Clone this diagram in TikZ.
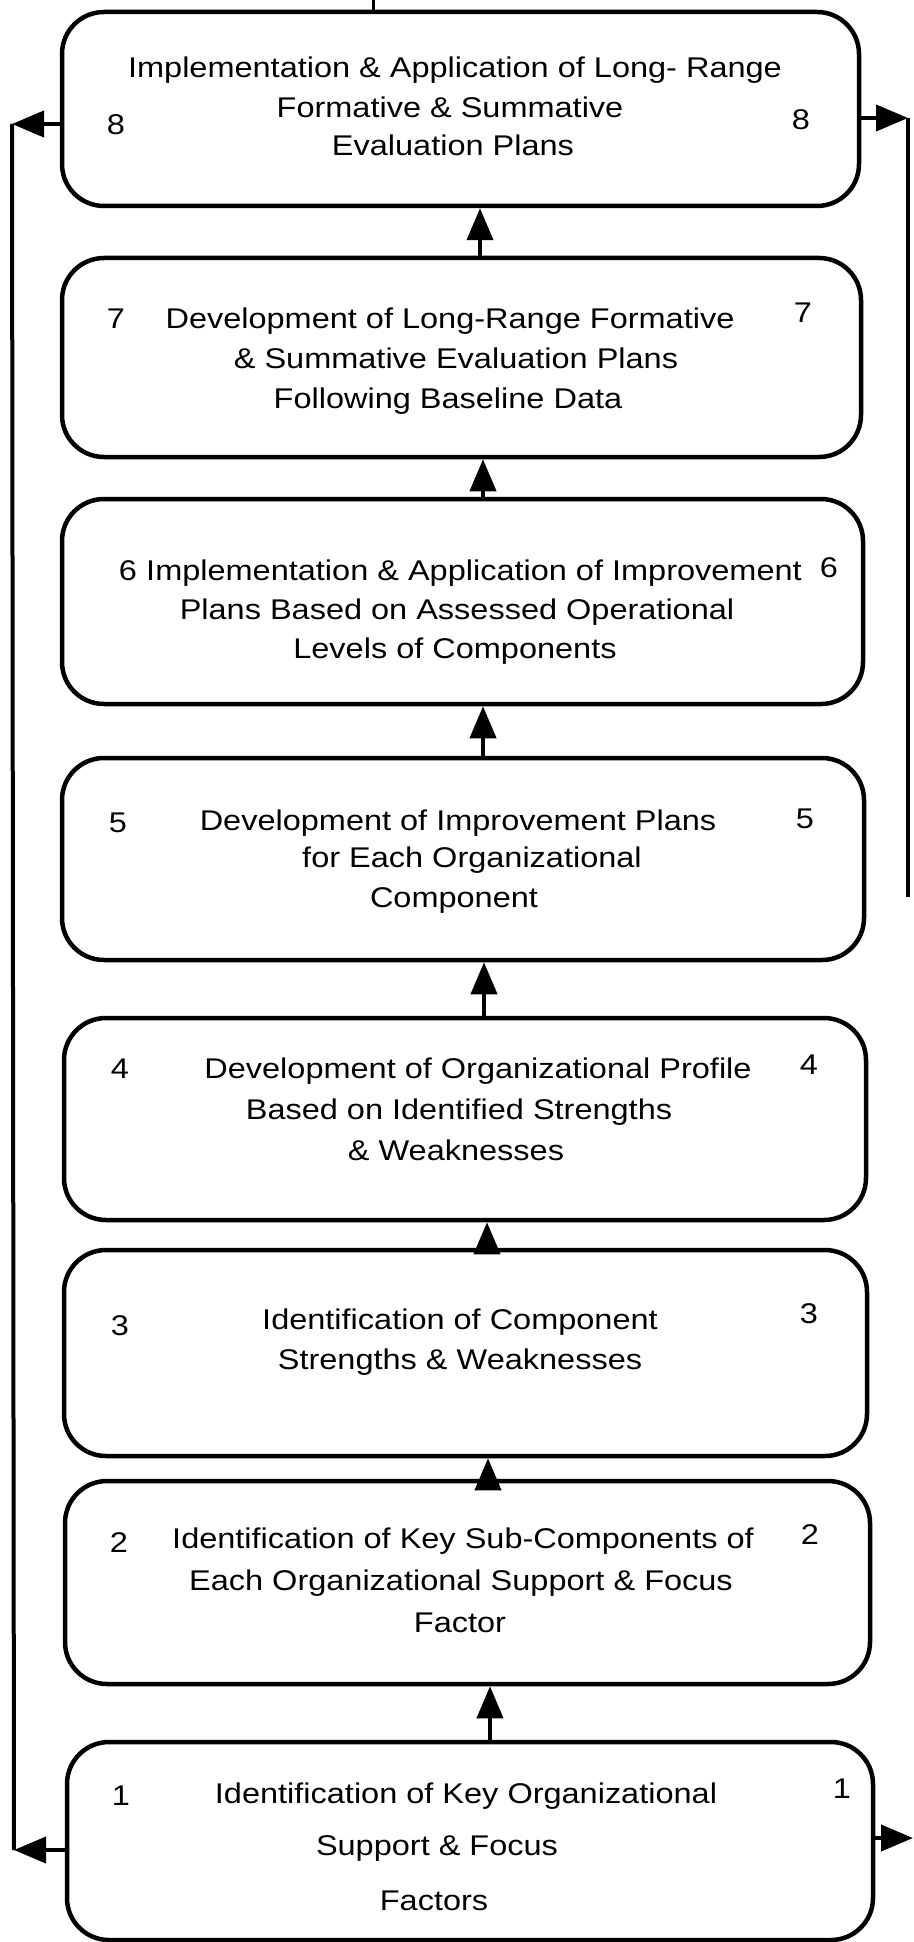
\documentclass[tikz,border=0pt]{standalone}
\usepackage{fontspec}
\setmainfont{Liberation Sans}[FakeStretch=1.14]
\usetikzlibrary{arrows.meta}
\begin{document}
\begin{tikzpicture}[x=1pt,y=-1pt,
  box/.style={draw, line width=4.5pt, rounded corners=42pt, inner sep=0pt},
  txt/.style={anchor=base, inner sep=0pt, font=\fontsize{28.5}{39}\selectfont},
  con/.style={line width=4pt},
  arr/.style={con, -{Triangle[length=32pt,width=26pt]}}]
\fill[white] (0,0) rectangle (913,1942);
\useasboundingbox (0,0) rectangle (913,1942);

% boxes
\node[box, minimum width=797pt, minimum height=194pt] (b8) at (460.5,109) {};
\node[box, minimum width=799pt, minimum height=199pt] (b7) at (461.5,357.5) {};
\node[box, minimum width=801pt, minimum height=205pt] (b6) at (462.5,601.5) {};
\node[box, minimum width=802pt, minimum height=202pt] (b5) at (463,859) {};
\node[box, minimum width=802pt, minimum height=202pt] (b4) at (465,1119) {};
\node[box, minimum width=803pt, minimum height=206pt] (b3) at (465.5,1353) {};
\node[box, minimum width=805pt, minimum height=203pt] (b2) at (467.5,1582.5) {};
\node[box, minimum width=806pt, minimum height=198pt] (b1) at (470,1841) {};

% box 8 text
\node[txt] (t8a) at (455,78) {Implementation \& Application of Long- Range};
\node[txt] (t8b) at (450,118) {Formative \& Summative};
\node[txt] (t8c) at (453,156) {Evaluation Plans};
\node[txt] (n8l) at (116,135) {8};
\node[txt] (n8r) at (801,130) {8};
% box 7 text
\node[txt] (t7a) at (450,328) {Development of Long-Range Formative};
\node[txt] (t7b) at (456,368) {\& Summative Evaluation Plans};
\node[txt] (t7c) at (448,408) {Following Baseline Data};
\node[txt] (n7l) at (116,328) {7};
\node[txt] (n7r) at (803,323) {7};
% box 6 text
\node[txt] (t6a) at (474,580) {Implementation \& Application of Improvement};
\node[txt] (t6b) at (457,619) {Plans Based on Assessed Operational};
\node[txt] (t6c) at (455,658) {Levels of Components};
\node[txt] (n6l) at (128,580) {6};
\node[txt] (n6r) at (829,577) {6};
% box 5 text
\node[txt] (t5a) at (458,830) {Development of Improvement Plans};
\node[txt] (t5b) at (472,867) {for Each Organizational};
\node[txt] (t5c) at (454,907) {Component};
\node[txt] (n5l) at (118,832) {5};
\node[txt] (n5r) at (805,828) {5};
% box 4 text
\node[txt] (t4a) at (478,1078) {Development of Organizational Profile};
\node[txt] (t4b) at (459,1119) {Based on Identified Strengths};
\node[txt] (t4c) at (456,1160) {\& Weaknesses};
\node[txt] (n4l) at (120,1078) {4};
\node[txt] (n4r) at (809,1074) {4};
% box 3 text
\node[txt] (t3a) at (460,1329) {Identification of Component};
\node[txt] (t3b) at (460,1369) {Strengths \& Weaknesses};
\node[txt] (n3l) at (120,1335) {3};
\node[txt] (n3r) at (809,1323) {3};
% box 2 text
\node[txt] (t2a) at (463,1548) {Identification of Key Sub-Components of};
\node[txt] (t2b) at (461,1590) {Each Organizational Support \& Focus};
\node[txt] (t2c) at (460,1632) {Factor};
\node[txt] (n2l) at (119,1552) {2};
\node[txt] (n2r) at (810,1544) {2};
% box 1 text
\node[txt] (t1a) at (466,1803) {Identification of Key Organizational};
\node[txt] (t1b) at (437,1855) {Support \& Focus};
\node[txt] (t1c) at (434,1910) {Factors};
\node[txt] (n1l) at (121,1805) {1};
\node[txt] (n1r) at (842,1798) {1};

% upward connectors
\coordinate (a87) at (480,0);
\coordinate (a76) at (483,0);
\coordinate (a65) at (483,0);
\coordinate (a54) at (484,0);
\coordinate (a43) at (487,0);
\coordinate (a32) at (488,0);
\coordinate (a21) at (490,0);
\draw[arr] (b7.north -| a87) -- (b8.south -| a87);
\draw[arr] (b6.north -| a76) -- (b7.south -| a76);
\draw[arr] (b5.north -| a65) -- (b6.south -| a65);
\draw[arr] (b4.north -| a54) -- (b5.south -| a54);
\draw[arr] (b3.north -| a43) -- (b4.south -| a43);
\draw[arr] (b2.north -| a32) -- (b3.south -| a32);
\draw[arr] (b1.north -| a21) -- (b2.south -| a21);

% left feedback line
\coordinate (L8) at (12,124);
\coordinate (L1) at (14,1850);
\draw[arr] (b8.west |- L8) -- (L8);
\draw[con] (L8) -- (L1);
\draw[arr] (b1.west |- L1) -- (L1);

% right line
\coordinate (R8) at (908,118);
\coordinate (R5) at (908,897);
\coordinate (R1) at (913,1838);
\draw[arr] (b8.east |- R8) -- (R8);
\draw[con] (R8) -- (R5);
\draw[arr] (b1.east |- R1) -- (R1);

% small stroke above top box
\coordinate (tk) at (373,0);
\draw[line width=3pt] (tk) -- (b8.north -| tk);
\end{tikzpicture}
\end{document}
